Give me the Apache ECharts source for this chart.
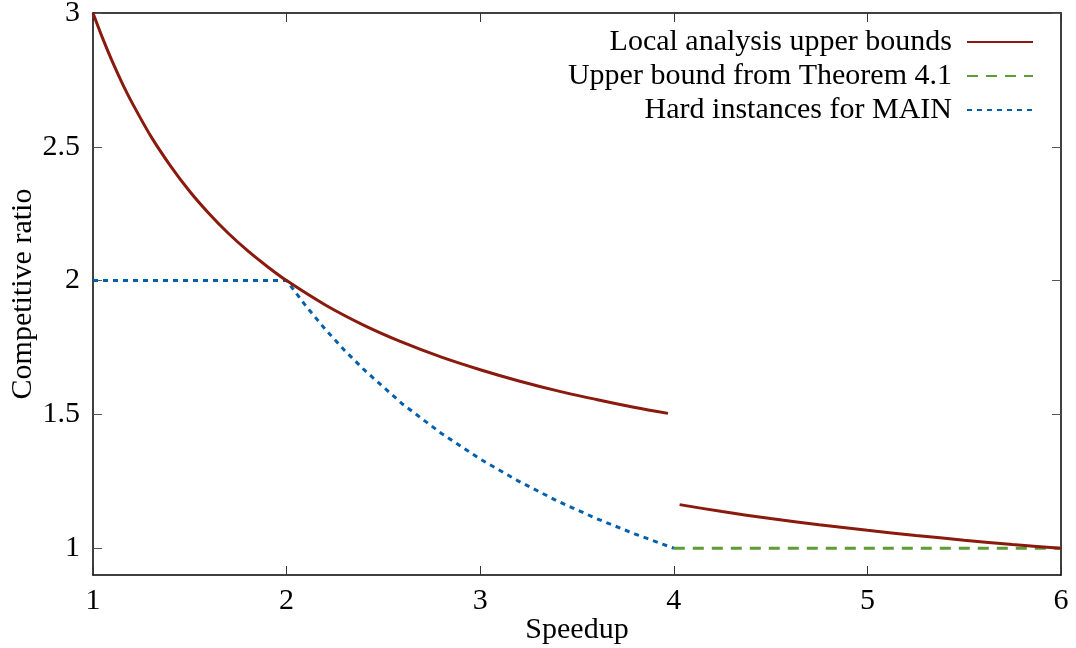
<!DOCTYPE html>
<html>
<head>
<meta charset="utf-8">
<script src="https://cdn.jsdelivr.net/npm/echarts@6/dist/echarts.min.js"></script>
<style>
  html, body { margin: 0; padding: 0; background: #fff; }
  #main { width: 1076px; height: 648px; }
</style>
</head>
<body>
<div id="main"></div>
<script>
// values
var localX1 = [1, 1.05, 1.1, 1.15, 1.2, 1.3, 1.4, 1.5, 1.6, 1.7, 1.8, 1.9, 2.0, 2.2, 2.4, 2.6, 2.8, 3.0, 3.2, 3.4, 3.6, 3.8, 3.97];
var localY1 = [3.0, 2.905, 2.818, 2.739, 2.667, 2.538, 2.429, 2.333, 2.25, 2.176, 2.111, 2.053, 2.0, 1.909, 1.833, 1.769, 1.714, 1.667, 1.625, 1.588, 1.556, 1.526, 1.504];
var localX2 = [4.03, 4.25, 4.5, 4.75, 5.0, 5.25, 5.5, 5.75, 6.0];
var localY2 = [1.163, 1.137, 1.111, 1.088, 1.067, 1.048, 1.030, 1.014, 1.0];

var theoremX = [4, 6];
var theoremY = [1, 1];

var hardX = [1, 2, 2.1, 2.2, 2.3, 2.4, 2.6, 2.8, 3.0, 3.2, 3.4, 3.6, 3.8, 4.0];
var hardY = [2, 2, 1.905, 1.818, 1.739, 1.667, 1.538, 1.429, 1.333, 1.25, 1.176, 1.111, 1.053, 1.0];

var yTicks = [1, 1.5, 2, 2.5, 3];

var FONT = 'Liberation Serif';

function pairs(xs, ys) {
  return xs.map(function (x, i) { return [x, ys[i]]; });
}

var localData = pairs(localX1, localY1).concat([[4, '-']], pairs(localX2, localY2));

var chart = echarts.init(document.getElementById('main'), null, { renderer: 'canvas' });

var baseX = {
  type: 'value', min: 1, max: 6, interval: 1,
  axisLine: { show: true, onZero: false, lineStyle: { color: '#000', width: 1.5 } },
  axisTick: { show: true, inside: true, length: 9, lineStyle: { color: '#333', width: 1 } },
  splitLine: { show: false }
};
var baseY = {
  type: 'value', min: 0.9, max: 3,
  axisLine: { show: true, onZero: false, lineStyle: { color: '#000', width: 1.5 } },
  axisTick: { show: true, inside: true, length: 9, customValues: yTicks, lineStyle: { color: '#555', width: 1 } },
  splitLine: { show: false }
};

var option = {
  backgroundColor: '#fff',
  animation: false,
  textStyle: { fontFamily: FONT },
  grid: { left: 93, right: 15, top: 13, bottom: 73, outerBoundsMode: 'none', containLabel: false },
  legend: {
    orient: 'vertical',
    right: 37,
    top: 22,
    align: 'right',
    itemWidth: 66,
    itemHeight: 14,
    itemGap: 4,
    itemStyle: { opacity: 0 },
    formatter: function (name) { return name + ' \u200a'; },
    textStyle: { fontFamily: FONT, fontSize: 30, color: '#000' },
    data: ['Local analysis upper bounds', 'Upper bound from Theorem 4.1', 'Hard instances for MAIN']
  },
  xAxis: [
    Object.assign({}, baseX, {
      position: 'bottom',
      name: 'Speedup', nameLocation: 'middle', nameGap: 40, nameMoveOverlap: false,
      nameTextStyle: { fontFamily: FONT, fontSize: 30, color: '#000' },
      axisLabel: { margin: 11, fontFamily: FONT, fontSize: 30, color: '#000' }
    }),
    Object.assign({}, baseX, { position: 'top', axisLabel: { show: false } })
  ],
  yAxis: [
    Object.assign({}, baseY, {
      position: 'left',
      name: 'Competitive ratio', nameLocation: 'middle', nameGap: 55, nameMoveOverlap: false,
      nameTextStyle: { fontFamily: FONT, fontSize: 30, color: '#000' },
      axisLabel: { margin: 13, customValues: yTicks, fontFamily: FONT, fontSize: 30, color: '#000' }
    }),
    Object.assign({}, baseY, { position: 'right', axisLabel: { show: false } })
  ],
  series: [
    {
      name: 'Local analysis upper bounds', type: 'line', showSymbol: false, symbol: 'none',
      connectNulls: false, smooth: 0.3, z: 3,
      lineStyle: { color: '#8b1a0e', width: 3 }, itemStyle: { color: '#8b1a0e' },
      data: localData
    },
    {
      name: 'Upper bound from Theorem 4.1', type: 'line', showSymbol: false, symbol: 'none', z: 2,
      lineStyle: { color: '#5e9c36', width: 3, type: [11, 8] }, itemStyle: { color: '#5e9c36' },
      data: pairs(theoremX, theoremY)
    },
    {
      name: 'Hard instances for MAIN', type: 'line', showSymbol: false, symbol: 'none', z: 2,
      lineStyle: { color: '#0060ad', width: 3, type: [5, 5] }, itemStyle: { color: '#0060ad' },
      data: pairs(hardX, hardY)
    }
  ]
};

chart.setOption(option);
</script>
</body>
</html>
